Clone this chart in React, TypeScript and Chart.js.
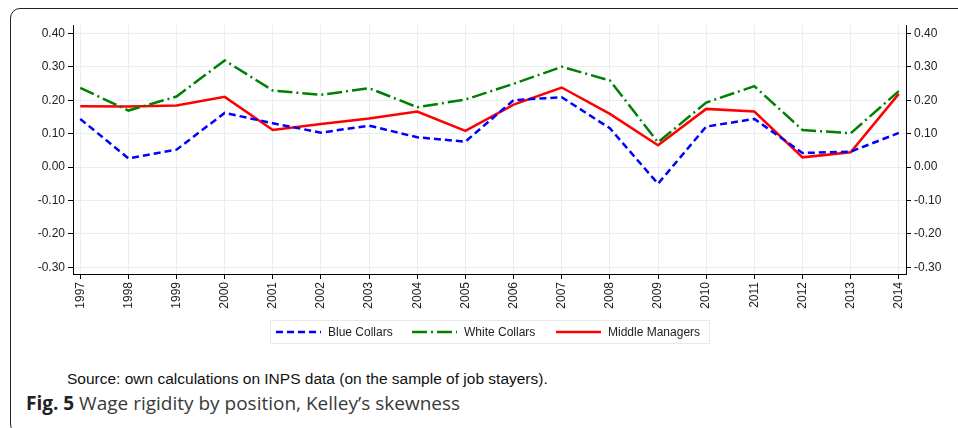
import React, { useEffect, useRef } from "react";
import { Chart, registerables } from "chart.js";

Chart.register(...registerables);

const years = [1997, 1998, 1999, 2000, 2001, 2002, 2003, 2004, 2005, 2006, 2007, 2008, 2009, 2010, 2011, 2012, 2013, 2014];
const blueCollars = [0.144, 0.026, 0.052, 0.162, 0.131, 0.103, 0.124, 0.089, 0.076, 0.2, 0.209, 0.116, -0.05, 0.121, 0.144, 0.042, 0.046, 0.102];
const whiteCollars = [0.237, 0.169, 0.211, 0.319, 0.229, 0.216, 0.236, 0.179, 0.202, 0.249, 0.3, 0.259, 0.074, 0.193, 0.242, 0.111, 0.101, 0.227];
const middleManagers = [0.182, 0.181, 0.184, 0.21, 0.111, 0.129, 0.145, 0.166, 0.108, 0.187, 0.238, 0.159, 0.065, 0.174, 0.166, 0.029, 0.044, 0.219];
const seriesLabels = ["Blue Collars", "White Collars", "Middle Managers"];
const sourceText = "Source: own calculations on INPS data (on the sample of job stayers).";
const figLabel = "Fig. 5";
const figTitle = " Wage rigidity by position, Kelley\u2019s skewness";

const FONT = "'Liberation Sans', Arial, Helvetica, sans-serif";

const toPoints = (vals: number[]) => vals.map((v, i) => ({ x: years[i], y: v }));

const legendPlugin = {
  id: "customLegend",
  afterDraw(chart: any) {
    const ctx = chart.ctx as CanvasRenderingContext2D;
    ctx.save();
    ctx.strokeStyle = "#e3eaec";
    ctx.lineWidth = 1;
    ctx.setLineDash([]);
    ctx.strokeRect(270.5, 320.5, 439, 23);
    const sampleX = [276, 412, 556];
    const y = 332;
    chart.data.datasets.forEach((ds: any, i: number) => {
      ctx.beginPath();
      ctx.strokeStyle = ds.borderColor;
      ctx.lineWidth = 2.5;
      ctx.setLineDash(ds.borderDash || []);
      ctx.moveTo(sampleX[i], y);
      ctx.lineTo(sampleX[i] + 45, y);
      ctx.stroke();
      ctx.setLineDash([]);
      ctx.fillStyle = "#222";
      ctx.font = `12px ${FONT}`;
      ctx.textBaseline = "middle";
      ctx.textAlign = "left";
      ctx.fillText(ds.label, sampleX[i] + 52, y + 0.5);
    });
    ctx.restore();
  },
};

export default function App() {
  const ref = useRef<HTMLCanvasElement | null>(null);

  useEffect(() => {
    document.body.style.margin = "0";
    if (!ref.current) return;
    const gridColor = "#e7eff1";
    const tickFont = { family: FONT, size: 12 };
    const chart = new Chart(ref.current, {
      type: "line",
      data: {
        datasets: [
          {
            label: seriesLabels[0],
            data: toPoints(blueCollars),
            borderColor: "#0000ff",
            borderWidth: 2.5,
            borderDash: [7, 4],
            pointRadius: 0,
            fill: false,
            tension: 0,
          },
          {
            label: seriesLabels[1],
            data: toPoints(whiteCollars),
            borderColor: "#008000",
            borderWidth: 2.5,
            borderDash: [15, 4, 2, 4],
            pointRadius: 0,
            fill: false,
            tension: 0,
          },
          {
            label: seriesLabels[2],
            data: toPoints(middleManagers),
            borderColor: "#ff0000",
            borderWidth: 2.5,
            pointRadius: 0,
            fill: false,
            tension: 0,
          },
        ],
      },
      options: {
        responsive: false,
        animation: false,
        devicePixelRatio: 1,
        layout: { padding: { left: 0, right: 0, top: 25, bottom: 0 } },
        plugins: { legend: { display: false }, tooltip: { enabled: false } },
        scales: {
          x: {
            type: "linear",
            position: "bottom",
            min: 1996.85,
            max: 2014.15,
            afterFit: (s: any) => {
              s.height = 76;
            },
            ticks: {
              stepSize: 1,
              includeBounds: false,
              autoSkip: false,
              maxRotation: 90,
              minRotation: 90,
              padding: 3,
              color: "#222",
              font: tickFont,
              callback: (v: any) => String(v),
            },
            grid: { color: gridColor, tickColor: "#000", tickLength: 5, lineWidth: 1 },
            border: { color: "#000", width: 1 },
          },
          y: {
            type: "linear",
            position: "left",
            min: -0.32,
            max: 0.425,
            afterFit: (s: any) => {
              s.width = 73;
            },
            ticks: {
              stepSize: 0.1,
              includeBounds: false,
              padding: 3,
              color: "#222",
              font: tickFont,
              callback: (v: any) => Number(v).toFixed(2),
            },
            grid: { color: gridColor, tickColor: "#000", tickLength: 5 },
            border: { color: "#000", width: 1 },
          },
          y2: {
            type: "linear",
            position: "right",
            min: -0.32,
            max: 0.425,
            afterFit: (s: any) => {
              s.width = 52;
            },
            ticks: {
              stepSize: 0.1,
              includeBounds: false,
              padding: 3,
              color: "#222",
              font: tickFont,
              callback: (v: any) => Number(v).toFixed(2),
            },
            grid: { drawOnChartArea: false, tickColor: "#000", tickLength: 5 },
            border: { color: "#000", width: 1 },
          },
        },
      },
      plugins: [legendPlugin],
    } as any);
    return () => chart.destroy();
  }, []);

  return (
    <div style={{ position: "relative", width: 958, height: 428, overflow: "hidden", background: "#fff" }}>
      <div
        style={{
          position: "absolute",
          left: 9.5,
          top: 7.5,
          width: 1000,
          height: 426,
          border: "1.5px solid #222",
          borderRadius: 10,
          boxSizing: "border-box",
        }}
      />
      <canvas ref={ref} width={958} height={350} style={{ position: "absolute", left: 0, top: 0, display: "block" }} />
      <div
        style={{
          position: "absolute",
          left: 67,
          top: 370.5,
          fontFamily: FONT,
          fontSize: 15.5,
          lineHeight: "15.5px",
          color: "#111",
          whiteSpace: "nowrap",
        }}
      >
        {sourceText}
      </div>
      <div
        style={{
          position: "absolute",
          left: 26,
          top: 394,
          fontFamily: "'Open Sans', sans-serif",
          fontSize: 19,
          lineHeight: "19px",
          color: "#3a3a3a",
          whiteSpace: "nowrap",
        }}
      >
        <span style={{ fontWeight: 700, color: "#222" }}>{figLabel}</span>
        {figTitle}
      </div>
    </div>
  );
}
